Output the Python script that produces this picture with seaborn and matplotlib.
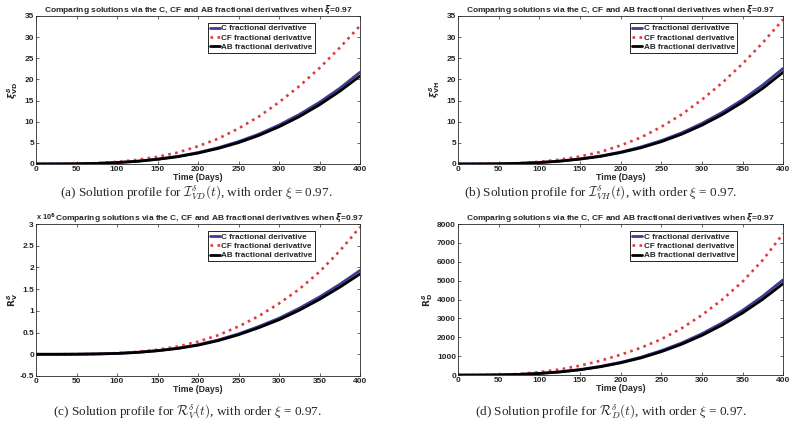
import matplotlib
matplotlib.use("Agg")
import matplotlib.pyplot as plt
from matplotlib.ticker import FuncFormatter
import numpy as np
import pandas as pd
import seaborn as sns

# time grid (days)
t = [0, 25, 50, 75, 100, 125, 150, 175, 200, 225, 250, 275, 300, 325, 350, 375, 400]

# panel (a) I_VD
a_C = [0, 0.01, 0.04, 0.14, 0.34, 0.66, 1.15, 1.8, 2.7, 3.85, 5.3, 7.05, 9.2, 11.7, 14.6, 17.9, 21.7]
a_CF = [0, 0.01, 0.06, 0.2, 0.5, 0.98, 1.7, 2.7, 4.2, 6.0, 8.4, 11.2, 14.6, 18.4, 22.7, 27.5, 32.7]
a_AB = [0, 0.01, 0.04, 0.13, 0.32, 0.63, 1.1, 1.72, 2.58, 3.68, 5.05, 6.75, 8.8, 11.2, 14.0, 17.2, 20.8]

# panel (b) I_VH
b_C = [0, 0.01, 0.04, 0.15, 0.36, 0.69, 1.2, 1.88, 2.82, 4.02, 5.52, 7.35, 9.6, 12.2, 15.2, 18.7, 22.6]
b_CF = [0, 0.01, 0.06, 0.21, 0.52, 1.02, 1.78, 2.82, 4.38, 6.27, 8.78, 11.7, 15.2, 19.2, 23.7, 28.7, 34.2]
b_AB = [0, 0.01, 0.04, 0.14, 0.33, 0.66, 1.15, 1.79, 2.7, 3.83, 5.27, 7.04, 9.17, 11.67, 14.6, 17.9, 21.7]

# panel (c) R_V
c_C = [0, 0, 2e3, 8e3, 2.0e4, 4.5e4, 8.5e4, 1.4e5, 2.2e5, 3.3e5, 4.7e5, 6.4e5, 8.3e5, 1.06e6, 1.32e6, 1.61e6, 1.93e6]
c_CF = [0, 0, 3e3, 1.0e4, 2.7e4, 5.8e4, 1.05e5, 1.8e5, 2.9e5, 4.4e5, 6.4e5, 8.8e5, 1.17e6, 1.5e6, 1.9e6, 2.38e6, 2.93e6]
c_AB = [0, 0, 2e3, 8e3, 1.9e4, 4.3e4, 8.1e4, 1.34e5, 2.1e5, 3.15e5, 4.5e5, 6.12e5, 7.95e5, 1.015e6, 1.265e6, 1.545e6, 1.85e6]

# panel (d) R_D
d_C = [0, 2, 12, 39, 91, 173, 294, 460, 677, 949, 1293, 1702, 2192, 2767, 3429, 4187, 5050]
d_CF = [0, 3, 18, 60, 160, 300, 500, 760, 1080, 1450, 1900, 2480, 3180, 4000, 4950, 6100, 7500]
d_AB = [0, 2, 11, 37, 87, 166, 282, 442, 650, 911, 1241, 1634, 2104, 2656, 3292, 4020, 4850]

series_names = ["C fractional derivative", "CF fractional derivative", "AB fractional derivative"]
title = r"Comparing solutions via the C, CF and AB fractional derivatives when $\xi$=0.97"

sns.set_style("ticks")
plt.rcParams["font.family"] = ["Liberation Sans", "DejaVu Sans"]
plt.rcParams["font.weight"] = "bold"
plt.rcParams["axes.linewidth"] = 0.6
plt.rcParams["xtick.major.width"] = 0.5
plt.rcParams["ytick.major.width"] = 0.5

fig = plt.figure(figsize=(7.93, 4.21), dpi=100)

panels = [
    ([0.0454, 0.6105, 0.4086, 0.3515], a_C, a_CF, a_AB, r"$\xi^{\delta}_{\mathbf{VD}}$", (0, 35), np.arange(0, 36, 5), 1, -0.05),
    ([0.5776, 0.6105, 0.4100, 0.3515], b_C, b_CF, b_AB, r"$\xi^{\delta}_{\mathbf{VH}}$", (0, 35), np.arange(0, 36, 5), 1, -0.05),
    ([0.0454, 0.1069, 0.4086, 0.3610], c_C, c_CF, c_AB, r"$\mathbf{R}^{\delta}_{\mathbf{V}}$", (-0.5e6, 3e6), np.arange(-0.5e6, 3.01e6, 0.5e6), 1e6, -0.05),
    ([0.5776, 0.1090, 0.4100, 0.3587], d_C, d_CF, d_AB, r"$\mathbf{R}^{\delta}_{\mathbf{D}}$", (0, 8000), np.arange(0, 8001, 1000), 1, -0.072),
]

captions = [
    (0.248, 0.541, r"(a) Solution profile for $\mathcal{I}^{\delta}_{VD}(t)$, with order $\xi$ = 0.97."),
    (0.758, 0.541, r"(b) Solution profile for $\mathcal{I}^{\delta}_{VH}(t)$, with order $\xi$ = 0.97."),
    (0.237, 0.022, r"(c) Solution profile for $\mathcal{R}^{\delta}_{V}(t)$, with order $\xi$ = 0.97."),
    (0.770, 0.022, r"(d) Solution profile for $\mathcal{R}^{\delta}_{D}(t)$, with order $\xi$ = 0.97."),
]

for pos, yc, ycf, yab, ylab, ylim, yticks, scale, labx in panels:
    ax = fig.add_axes(pos)
    df = pd.DataFrame({"t": t, "C": yc, "CF": ycf, "AB": yab})
    sns.lineplot(data=df, x="t", y="C", ax=ax, color="#3c3c96", lw=2.0, label=series_names[0])
    sns.lineplot(data=df, x="t", y="CF", ax=ax, color="#e03a3a", lw=1.9, linestyle=":", label=series_names[1])
    sns.lineplot(data=df, x="t", y="AB", ax=ax, color="black", lw=2.0, label=series_names[2])
    ax.set_xlim(0, 400)
    ax.set_ylim(*ylim)
    ax.set_xticks(np.arange(0, 401, 50))
    ax.set_yticks(yticks)
    ax.yaxis.set_major_formatter(FuncFormatter(lambda v, p, s=scale: "%g" % round(v / s, 3)))
    ax.tick_params(direction="in", top=True, right=True, labelsize=6.0, length=2.5, pad=1.5)
    for lbl in ax.get_xticklabels() + ax.get_yticklabels():
        lbl.set_fontweight("bold")
    ax.set_xlabel("Time (Days)", fontsize=6.3, fontweight="bold", labelpad=0)
    ax.set_ylabel(ylab, fontsize=6.5, math_fontfamily="dejavusans")
    ax.yaxis.set_label_coords(labx, 0.5)
    tx = 0.5
    if scale != 1:
        ax.text(0, 1.008, r"x 10$^{6}$", transform=ax.transAxes, fontsize=5.3,
                fontweight="bold", ha="left", va="bottom", math_fontfamily="dejavusans")
        tx = 0.535
    ax.set_title(title, fontsize=6.0, fontweight="bold", x=tx, y=1.0, pad=3, math_fontfamily="dejavusans")
    leg = ax.legend(loc="upper left", bbox_to_anchor=(0.53, 0.955), fontsize=5.9,
                    frameon=True, fancybox=False, framealpha=1, edgecolor="black",
                    handlelength=1.2, handletextpad=0.2, borderpad=0.25, labelspacing=0.2,
                    borderaxespad=0)
    leg.get_frame().set_linewidth(0.6)
    for txt in leg.get_texts():
        txt.set_fontweight("bold")

for x, y, s in captions:
    fig.text(x, y, s, ha="center", va="center", fontsize=9.5, fontweight="normal",
             family="Liberation Serif", math_fontfamily="cm")

fig.savefig("out.png", dpi=100)
